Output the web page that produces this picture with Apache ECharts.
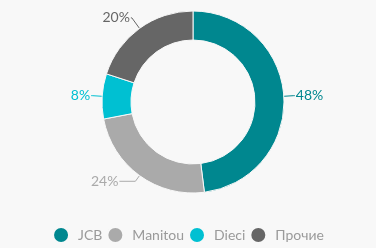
<!DOCTYPE html>
<html><head><meta charset="utf-8">
<script src="https://cdn.jsdelivr.net/npm/echarts@6/dist/echarts.min.js"></script>
<style>html,body{margin:0;padding:0;background:#f8f8f8}#c{width:376px;height:248px}</style>
</head><body><div id="c"></div>
<script>
const categories = ['JCB', 'Manitou', 'Dieci', 'Прочие'];
const values = [48, 24, 8, 20];
const colors = ['#00878f', '#aaaaaa', '#00c0d2', '#666666'];
const FONT = 'Lato, sans-serif';
const lineLens = [[10, 1], [7, 16], [10, 1], [13, 1]];
const chart = echarts.init(document.getElementById('c'), null, {renderer: 'canvas'});
chart.setOption({
  backgroundColor: '#f8f8f8',
  animation: false,
  color: colors,
  legend: {
    data: categories,
    bottom: -1,
    left: 'center',
    icon: 'circle',
    itemWidth: 24,
    itemHeight: 16,
    itemGap: 4,
    textStyle: {color: '#9a9a9a', fontSize: 14, fontFamily: FONT}
  },
  series: [{
    type: 'pie',
    center: [193, 102],
    radius: [62, 91],
    startAngle: 90,
    clockwise: true,
    avoidLabelOverlap: false,
    itemStyle: {borderColor: '#f8f8f8', borderWidth: 1},
    label: {
      formatter: '{c}%',
      fontSize: 14,
      fontFamily: FONT,
      distanceToLabelLine: 1
    },
    labelLine: {length: 10, length2: 1, lineStyle: {width: 1}},
    data: categories.map((n, i) => ({
      name: n, value: values[i],
      label: {color: colors[i]},
      labelLine: {length: lineLens[i][0], length2: lineLens[i][1]}
    }))
  }]
});
</script></body></html>
